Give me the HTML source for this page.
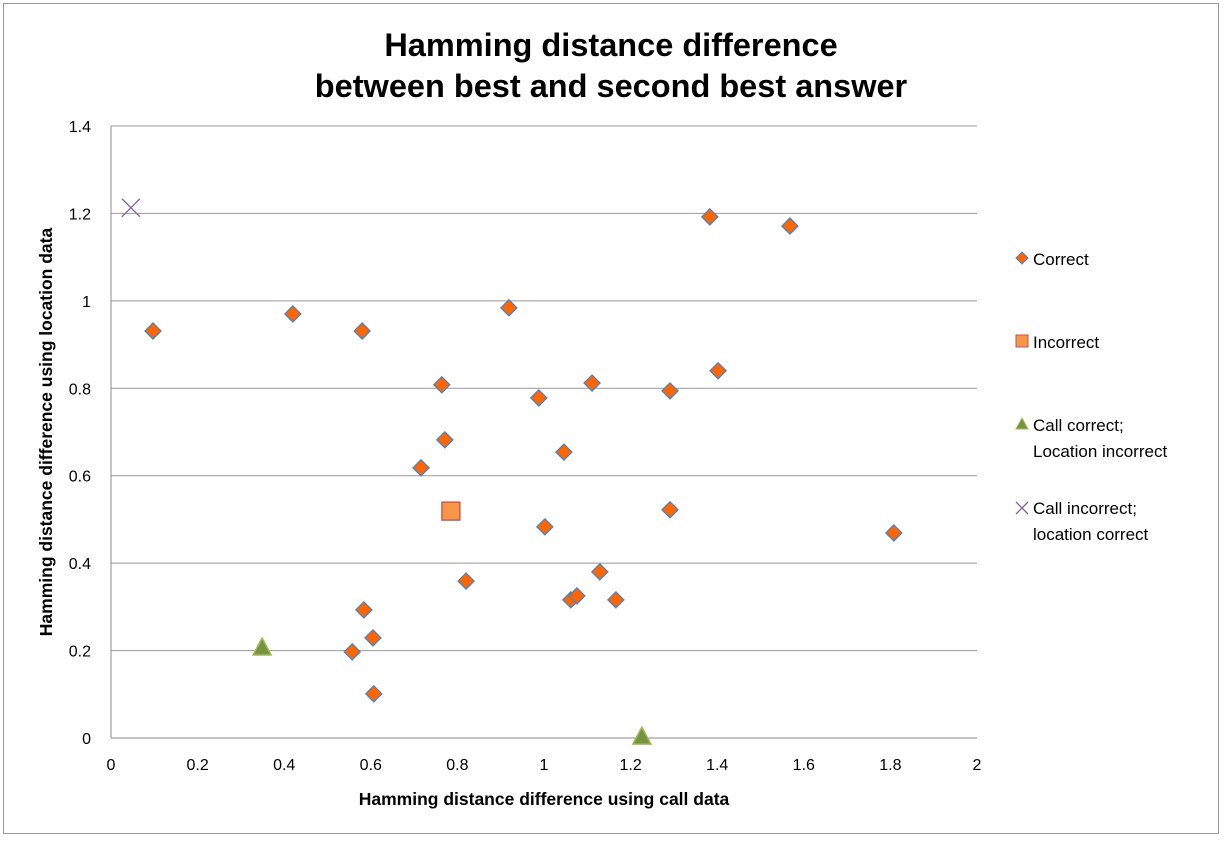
<!DOCTYPE html>
<html><head><meta charset="utf-8"><style>
body{margin:0;background:#fff;font-family:"Liberation Sans",sans-serif}
svg text{font-family:"Liberation Sans",sans-serif}
</style></head><body>
<svg id="chart" width="1223" height="839">
<rect x="3.5" y="3.5" width="1215" height="830" fill="#fff" stroke="#999"/>
<text x="611" y="56" text-anchor="middle" font-size="32.5" font-weight="bold">Hamming distance difference</text>
<text x="611" y="97" text-anchor="middle" font-size="32.5" font-weight="bold">between best and second best answer</text>
<g id="grid"></g><g id="marks"></g>
<text x="544" y="805" text-anchor="middle" font-size="17.5" font-weight="bold">Hamming distance difference using call data</text>
<text transform="translate(52,432) rotate(-90)" text-anchor="middle" font-size="17.5" font-weight="bold">Hamming distance difference using location data</text>
<g>
<polygon points="1022,252 1028,258 1022,264 1016,258" fill="#f60" stroke="#4f81bd"/>
<text x="1033" y="265" font-size="17">Correct</text>
<rect x="1016" y="335" width="12" height="12" fill="#f79646" stroke="#c0504d"/>
<text x="1033" y="348" font-size="17">Incorrect</text>
<polygon points="1022,418 1028,429 1016,429" fill="#77933c" stroke="#9bbb59"/>
<text x="1033" y="431" font-size="17">Call correct;</text>
<text x="1033" y="457" font-size="17">Location incorrect</text>
<path d="M1016,502 L1028,514 M1028,502 L1016,514" stroke="#8064a2" stroke-width="1.3"/>
<text x="1033" y="514" font-size="17">Call incorrect;</text>
<text x="1033" y="540" font-size="17">location correct</text>
</g>
</svg>
<script>
const xTicks=[0,0.2,0.4,0.6,0.8,1,1.2,1.4,1.6,1.8,2];
const yTicks=[0,0.2,0.4,0.6,0.8,1,1.2,1.4];
const correctX=[0.097,0.42,0.58,0.919,0.764,0.771,0.716,0.988,1.046,1.111,1.291,1.402,1.383,1.568,1.002,1.291,1.808,0.820,0.584,0.605,0.557,0.607,1.062,1.076,1.129,1.166];
const correctY=[0.931,0.970,0.931,0.984,0.808,0.682,0.618,0.778,0.654,0.812,0.794,0.840,1.192,1.171,0.483,0.522,0.469,0.359,0.293,0.229,0.197,0.101,0.316,0.325,0.380,0.316];
const incorrectX=[0.785];
const incorrectY=[0.519];
const callCorrectX=[0.349,1.226];
const callCorrectY=[0.206,0.002];
const callIncorrectX=[0.046];
const callIncorrectY=[1.213];
const NS="http://www.w3.org/2000/svg";
const X0=111,X1=977,Y0=738,Y1=126;
const sx=v=>X0+v/2*(X1-X0), sy=v=>Y0-v/1.4*(Y0-Y1);
const grid=document.getElementById('grid'), marks=document.getElementById('marks');
function mk(tag,a,p){const e=document.createElementNS(NS,tag);for(const k in a)e.setAttribute(k,a[k]);p.appendChild(e);return e;}
yTicks.forEach(v=>{
 const l=mk('line',{x1:X0,x2:X1,y1:sy(v),y2:sy(v),stroke:v===0?'#888':'#999','stroke-width':1},grid);
 
 
 const t=mk('text',{x:X0-20,y:sy(v)+6,'text-anchor':'end','font-size':16},grid);t.textContent=v;
 
 
});
const ax=mk('line',{x1:X0,x2:X0,y1:Y1,y2:Y0,stroke:'#888'},grid);


xTicks.forEach(v=>{
 const t=mk('text',{x:sx(v),y:Y0+32,'text-anchor':'middle','font-size':16},grid);t.textContent=v;
 
 
});
correctX.forEach((v,i)=>{const x=sx(v),y=sy(correctY[i]);
 const p=mk('polygon',{points:`${x},${y-8} ${x+8},${y} ${x},${y+8} ${x-8},${y}`,fill:'#f60',stroke:'#4f81bd','stroke-width':1.3},marks);
 
 });
incorrectX.forEach((v,i)=>{const x=sx(v),y=sy(incorrectY[i]);
 const p=mk('rect',{x:x-9,y:y-9,width:18,height:18,fill:'#f79646',stroke:'#c0504d','stroke-width':1.3},marks);
 
 });
callCorrectX.forEach((v,i)=>{const x=sx(v),y=sy(callCorrectY[i]);
 const p=mk('polygon',{points:`${x},${y-10} ${x+9},${y+7} ${x-9},${y+7}`,fill:'#77933c',stroke:'#9bbb59','stroke-width':1.5},marks);
 
 });
callIncorrectX.forEach((v,i)=>{const x=sx(v),y=sy(callIncorrectY[i]);
 const p=mk('path',{d:`M${x-9},${y-9}L${x+9},${y+9}M${x+9},${y-9}L${x-9},${y+9}`,stroke:'#8064a2','stroke-width':1.3},marks);
 
 });
</script>
</body></html>
